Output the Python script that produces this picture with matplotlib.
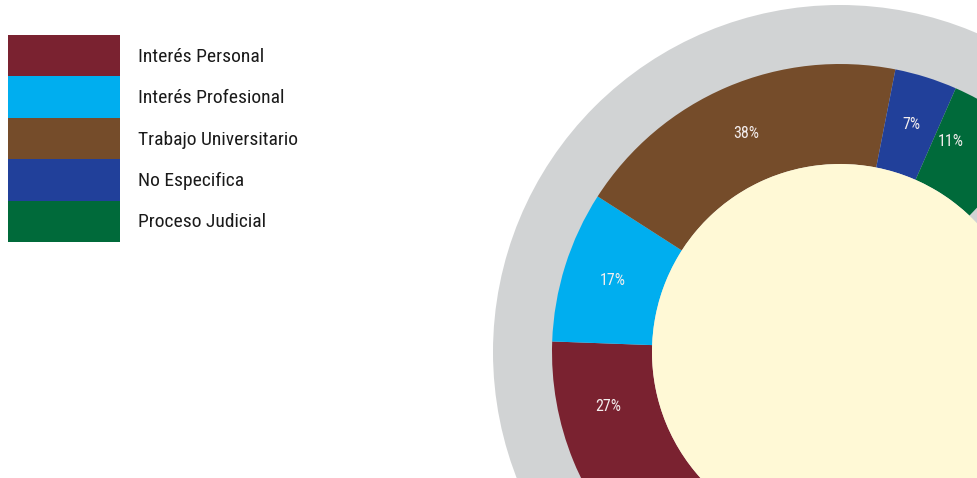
import numpy as np
import matplotlib
matplotlib.use("Agg")
import matplotlib.pyplot as plt
from matplotlib.patches import Circle, Rectangle
from matplotlib import font_manager as fm

categories = ["Interés Personal", "Interés Profesional", "Trabajo Universitario",
              "No Especifica", "Proceso Judicial"]
values = [27, 17, 38, 7, 11]
colors = ["#7A2230", "#00AEEF", "#754C2A", "#21409A", "#006A3A"]
ring_grey = "#D1D3D4"
center_fill = "#FFF9D6"

# choose a condensed font if one is installed
names = {f.name: f for f in fm.fontManager.ttflist}
font_kw = None
for cand in ["Liberation Sans Narrow", "Roboto Condensed", "Open Sans Condensed",
             "DejaVu Sans Condensed", "Noto Sans Condensed"]:
    if cand in names:
        font_kw = dict(family=[cand, "DejaVu Sans"])
        break
if font_kw is None:
    cond = [f for f in fm.fontManager.ttflist
            if f.stretch in ("condensed", "semi-condensed", "extra-condensed")
            and f.style == "normal" and f.weight in (400, "normal", "regular")]
    if cond:
        font_kw = dict(family=[cond[0].name, "DejaVu Sans"], stretch=cond[0].stretch)
CONDENSED = font_kw is not None
if font_kw is None:
    font_kw = dict(family=["Roboto", "DejaVu Sans"])

W, H = 977, 478
fig = plt.figure(figsize=(W / 100, H / 100), dpi=100)
ax = fig.add_axes([0, 0, 1, 1])

cx, cy = 840, H - 352
r_grey, r_ring, r_inner = 347, 288, 188

ax.add_patch(Circle((cx, cy), r_grey, color=ring_grey, zorder=0, lw=0))

# The ring covers half a circle for the full 100%
fracs = [v / 200 for v in values]
wedges, _ = ax.pie(fracs, normalize=False, radius=r_ring, center=(cx, cy),
                   startangle=226.5, counterclock=False, colors=colors,
                   wedgeprops=dict(width=r_ring - r_inner, linewidth=0))
for w in wedges:
    w.set_zorder(1)

ax.add_patch(Circle((cx, cy), r_inner, color=center_fill, zorder=2, lw=0))

# labels at the middle of the visible part of each wedge
r_lab = (r_ring + r_inner) / 2
pad = 12
for w, v in zip(wedges, values):
    th = np.linspace(w.theta1, w.theta2, 400)
    xs = cx + r_lab * np.cos(np.deg2rad(th))
    ys = cy + r_lab * np.sin(np.deg2rad(th))
    vis = (xs > pad) & (xs < W - pad) & (ys > pad) & (ys < H - pad)
    if vis.any():
        ang = np.deg2rad((th[vis].min() + th[vis].max()) / 2)
    else:
        ang = np.deg2rad((w.theta1 + w.theta2) / 2)
    ax.text(cx + r_lab * np.cos(ang), cy + r_lab * np.sin(ang), f"{v}%",
            ha="center", va="center", color="#F4EEEE",
            fontsize=11.5 if CONDENSED else 9, zorder=3, **font_kw)

# Legend
top, row_h = H - 35, 41.4
for i, (lab, col) in enumerate(zip(categories, colors)):
    y0 = top - (i + 1) * row_h
    ax.add_patch(Rectangle((8, y0), 112, row_h, color=col, lw=0, zorder=3))
    ax.text(138, y0 + row_h / 2 - 1, lab, ha="left", va="center",
            fontsize=14 if CONDENSED else 12.5, color="#1a1a1a", zorder=3, **font_kw)

ax.set_xlim(0, W)
ax.set_ylim(0, H)
ax.set_aspect("equal")
ax.axis("off")
fig.savefig("out.png", dpi=100, facecolor="white")
